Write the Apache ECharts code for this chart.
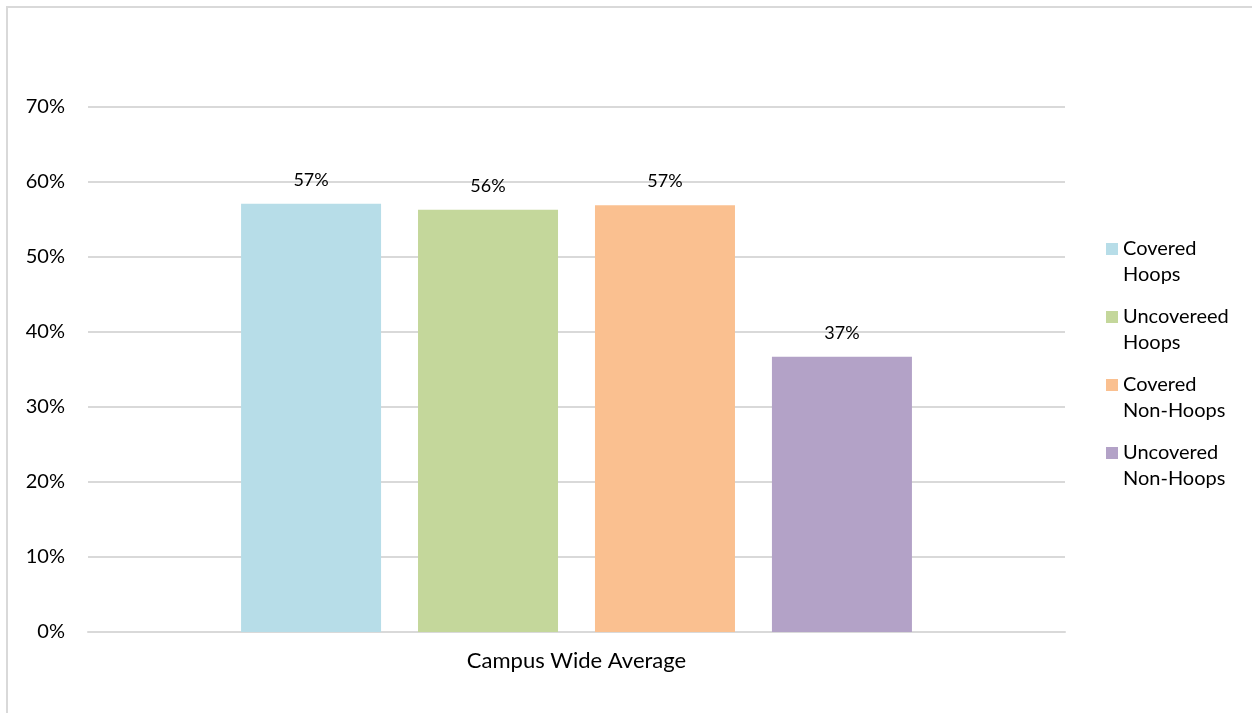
<!DOCTYPE html>
<html>
<head>
<meta charset="utf-8">
<title>Campus Wide Average</title>
<script src="https://cdn.jsdelivr.net/npm/echarts@6/dist/echarts.min.js"></script>
<style>
  html, body { margin: 0; padding: 0; background: #ffffff; }
  #frame {
    position: absolute; left: 6px; top: 6px; width: 1300px; height: 760px;
    border-left: 2px solid #d9d9d9; border-top: 2px solid #d9d9d9; box-sizing: border-box;
  }
  #chart { position: absolute; left: 0; top: 0; width: 1252px; height: 713px; }
</style>
</head>
<body>
<div id="frame"></div>
<div id="chart"></div>
<script>
// Share of sites per group, campus-wide average
const categories = ['Campus Wide Average'];
const seriesNames = ['Covered\nHoops', 'Uncovereed\nHoops', 'Covered\nNon-Hoops', 'Uncovered\nNon-Hoops'];
const coveredHoops = [0.571];
const uncoveredHoops = [0.563];
const coveredNonHoops = [0.569];
const uncoveredNonHoops = [0.367];
const yTicks = [0, 0.1, 0.2, 0.3, 0.4, 0.5, 0.6, 0.7];

const seriesValues = [coveredHoops, uncoveredHoops, coveredNonHoops, uncoveredNonHoops];
const colors = ['#b7dde8', '#c4d79b', '#fac090', '#b3a2c7'];
const FONT = 'Lato';

const chart = echarts.init(document.getElementById('chart'), null, { renderer: 'canvas' });

const pct = v => Math.round(v * 100) + '%';

chart.setOption({
  animation: false,
  color: colors,
  textStyle: { fontFamily: FONT, color: '#000' },
  grid: { left: 88, right: 187, top: 107, bottom: 81, containLabel: false },
  legend: {
    orient: 'vertical',
    left: 1106,
    top: 210,
    padding: 0,
    itemWidth: 12,
    itemHeight: 12,
    itemGap: -10,
    icon: 'rect',
    // a leading blank line keeps the swatch level with the first line of each name
    formatter: name => '\n' + name,
    textStyle: { fontFamily: FONT, fontSize: 20, color: '#000', lineHeight: 26 },
    data: seriesNames
  },
  xAxis: {
    type: 'category',
    data: categories,
    axisTick: { show: false },
    axisLine: { show: true, lineStyle: { color: '#d9d9d9', width: 2 } },
    axisLabel: { fontFamily: FONT, fontSize: 22, color: '#000', margin: 18 }
  },
  yAxis: {
    type: 'value',
    min: 0,
    max: 0.7,
    interval: 0.1,
    axisLine: { show: false },
    axisTick: { show: false },
    splitLine: { lineStyle: { color: '#d9d9d9', width: 2 } },
    axisLabel: {
      fontFamily: FONT, fontSize: 20, color: '#000', margin: 23,
      formatter: v => yTicks.some(t => Math.abs(t - v) < 1e-9) ? pct(v) : ''
    }
  },
  series: seriesValues.map((vals, i) => ({
    name: seriesNames[i],
    type: 'bar',
    data: vals,
    barWidth: 140,
    barGap: '26.4%',
    label: {
      show: true,
      position: 'top',
      distance: 15,
      fontFamily: FONT,
      fontSize: 18,
      color: '#000',
      formatter: p => pct(p.value)
    }
  }))
});
</script>
</body>
</html>
